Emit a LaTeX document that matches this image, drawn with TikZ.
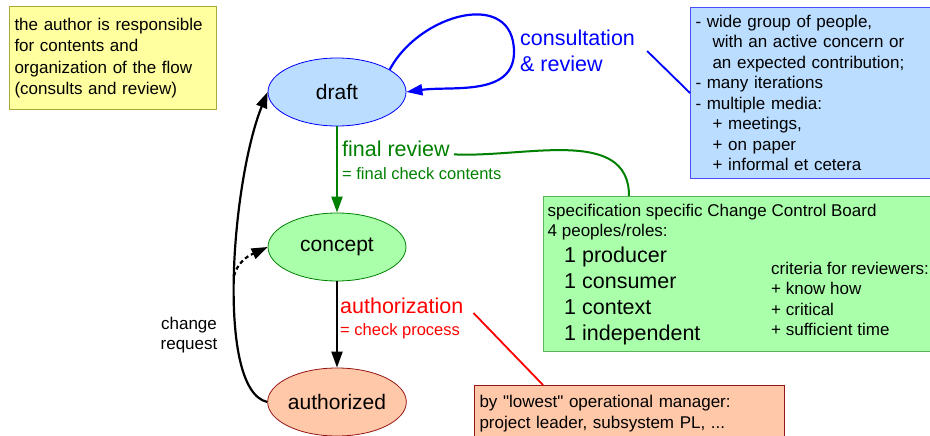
\documentclass[tikz,border=0pt]{standalone}
\usepackage{fontspec}
\setmainfont{Liberation Sans}
\usetikzlibrary{calc,arrows.meta,shapes.geometric}

\definecolor{notefill}{RGB}{255,255,160}
\definecolor{notedraw}{RGB}{170,170,60}
\definecolor{bluefill}{RGB}{187,221,255}
\definecolor{greenfill}{RGB}{170,255,170}
\definecolor{greendraw}{RGB}{90,180,90}
\definecolor{salmonfill}{RGB}{255,200,168}
\definecolor{salmondraw}{RGB}{150,20,20}
\definecolor{flowgreen}{RGB}{0,128,0}
\definecolor{flowblue}{RGB}{0,0,255}
\definecolor{flowred}{RGB}{255,0,0}

\tikzset{
  phase/.style={ellipse,draw,line width=0.8pt,minimum width=138pt,minimum height=68pt,inner sep=0pt,font=\fontsize{21}{25}\selectfont},
  notebox/.style={draw,line width=1pt,anchor=north west,align=left,inner xsep=5pt,inner ysep=0pt,font=\fontsize{17}{20.5}\selectfont},
  bigtext/.style={font=\fontsize{21.5}{25.5}\selectfont},
  smalltext/.style={font=\fontsize{17}{20.5}\selectfont},
  subtext/.style={font=\fontsize{16.5}{20}\selectfont},
  flow/.style={line width=2.2pt,-{Triangle[length=16pt,width=11pt]}},
}

\begin{document}
\begin{tikzpicture}[x=1pt,y=1pt]
\useasboundingbox (0,0) rectangle (930,-436);
\clip (0,0) rectangle (930,-436);

% who is in charge
\node[notebox,fill=notefill,draw=notedraw,text width=197pt,minimum height=103pt,font=\fontsize{17}{21.3}\selectfont] (author) at (9,-6)
  {the author is responsible\\for contents and\\organization of the flow\\(consults and review)};

% the three states
\node[phase,fill=bluefill,draw=flowblue] (draft) at (337,-92) {draft};
\node[phase,fill=greenfill,draw=flowgreen] (concept) at (337,-247) {concept};
\node[phase,fill=salmonfill,draw=salmondraw] (authorized) at (337,-402) {authorized};

% consultation loop
\coordinate (loopturn) at (514,-52);
\draw[flow,flowblue] (draft.23) to[out=62,in=90,looseness=1.3] (loopturn) to[out=-90,in=8] (draft.east);
\node[bigtext,text=flowblue,align=left,anchor=west,inner xsep=12pt,inner ysep=0pt] (consult) at (508,-51) {consultation\\\& review};
\node[notebox,fill=bluefill,draw=flowblue!70,text width=250pt,minimum height=171pt] (media) at (690,-7)
  {- wide group of people,\\
   \hspace*{17pt}with an active concern or\\
   \hspace*{17pt}an expected contribution;\\
   - many iterations\\
   - multiple media:\\
   \hspace*{17pt}+ meetings,\\
   \hspace*{17pt}+ on paper\\
   \hspace*{17pt}+ informal et cetera};
\draw[flowblue,line width=1.8pt] (consult.east) -- (media.west);

% final review
\draw[flow,flowgreen] (draft) -- (concept);
\node[bigtext,text=flowgreen,anchor=base west,inner xsep=4pt] (finrev) at (338,-157) {final review};
\node[subtext,text=flowgreen,anchor=base west,inner xsep=4pt] (finrevsub) at (338,-179) {= final check contents};
\node[draw=greendraw,fill=greenfill,line width=1pt,anchor=north west,minimum width=407pt,minimum height=155pt,inner sep=0pt] (ccb) at (543,-196) {};
\draw[flowgreen,line width=2pt] (finrev.mid east) to[out=-3,in=90] ($(ccb.north west)+(86,0)$);
\node[smalltext,align=left,anchor=north west,inner sep=0pt] (ccbhead) at (547.5,-203.6)
  {specification specific Change Control Board\\4 peoples/roles:};
\node[bigtext,align=left,anchor=north west,inner sep=0pt,font=\fontsize{21.5}{26}\selectfont] (roles) at (564,-246.6)
  {1 producer\\1 consumer\\1 context\\1 independent};
\node[smalltext,align=left,anchor=north west,inner sep=0pt] (criteria) at (771,-261.6)
  {criteria for reviewers:\\+ know how\\+ critical\\+ sufficient time};

% authorization
\draw[flow] (concept) -- (authorized);
\node[bigtext,text=flowred,anchor=base west,inner xsep=10pt] (authlab) at (330,-313) {authorization};
\node[subtext,text=flowred,anchor=base west,inner xsep=10pt] (authsub) at (330,-335) {= check process};
\node[notebox,fill=salmonfill,draw=salmondraw,text width=300pt,minimum height=56pt] (manager) at (474,-385)
  {by \textquotedbl lowest\textquotedbl{} operational manager:\\project leader, subsystem PL, ...};
\draw[flowred,line width=1.8pt] (authlab.base east) -- ($(manager.north west)+(69,0)$);

% change request
\draw[flow] (authorized.west) .. controls (215,-390) and (232,-180) .. (draft.west);
\coordinate (branch) at (234,-276);
\draw[flow,dash pattern=on 4pt off 3pt] (branch) to[out=75,in=205] (concept.west);
\node[smalltext,align=center,font=\fontsize{17}{19.5}\selectfont] (chreq) at (189,-335) {change\\request};
\end{tikzpicture}
\end{document}
